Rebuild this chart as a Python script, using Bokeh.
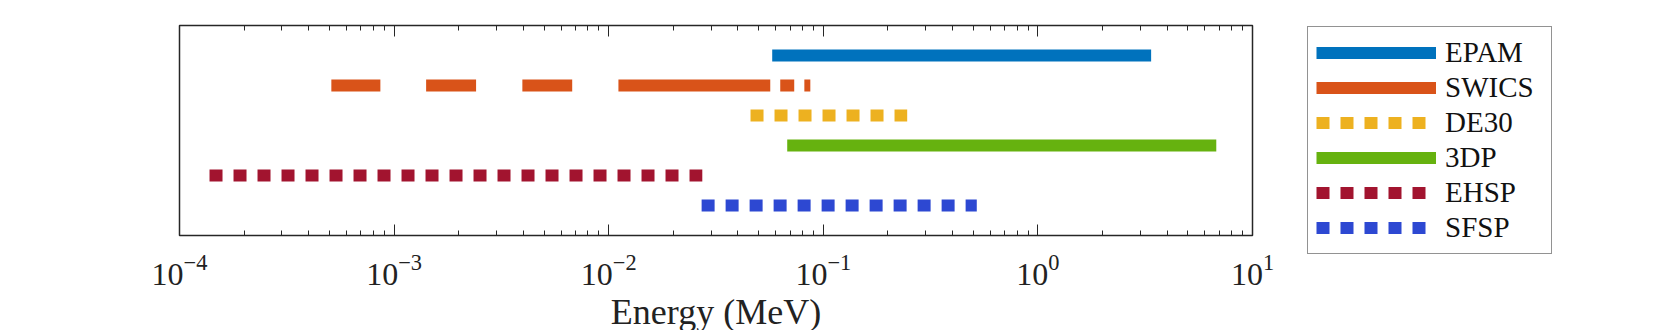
from bokeh.plotting import figure
from bokeh.layouts import row
from bokeh.models import (Range1d, LogAxis, LogTicker, LogTickFormatter,
                          CustomJSTickFormatter, Legend, LegendItem,
                          ColumnDataSource)
from bokeh.embed import file_html
from bokeh.resources import INLINE

# ---- data (energy ranges in MeV, one row per instrument) ----
instruments = ["EPAM", "SWICS", "DE30", "3DP", "EHSP", "SFSP"]
rows = [6, 5, 4, 3, 2, 1]
colors = ["#0072BD", "#D95319", "#EDB120", "#66B20F", "#A2142F", "#2D48D2"]
dashes = ["solid", "solid", "13 11", "solid", "13 11", "13 11"]

epam_range = [0.0578, 3.37]
swics_range = [5.1e-4, 0.087]
de30_range = [0.0458, 0.246]
tdp_range = [0.0679, 6.78]
ehsp_range = [1.38e-4, 0.0273]
sfsp_range = [0.0271, 0.519]

# SWICS is drawn as separate channel segments
swics_start = [5.1e-4, 1.41e-3, 3.96e-3, 0.0111, 0.063, 0.0816]
swics_end = [8.63e-4, 2.41e-3, 6.76e-3, 0.0566, 0.0732, 0.087]

FONT = "Liberation Serif"
AX = "#262626"

p = figure(x_axis_type="log", output_backend="svg", toolbar_location=None,
           frame_width=1073, frame_height=210,
           min_border_left=179, min_border_right=54,
           min_border_top=25, min_border_bottom=86,
           x_range=Range1d(1e-4, 10), y_range=Range1d(0, 7))
p.grid.visible = False
p.yaxis.visible = False
p.outline_line_color = AX
p.outline_line_width = 1.5
p.background_fill_color = "white"
p.border_fill_color = "white"

xa = p.xaxis[0]
xa.ticker = LogTicker(desired_num_ticks=6, num_minor_ticks=10)
xa.formatter = LogTickFormatter()
xa.major_tick_in = 11
xa.major_tick_out = 0
xa.minor_tick_in = 5
xa.minor_tick_out = 0
xa.axis_line_color = AX
xa.major_tick_line_color = AX
xa.minor_tick_line_color = AX
xa.major_label_text_font = FONT
xa.major_label_text_font_size = "32px"
xa.major_label_text_color = "#222222"
xa.major_label_standoff = 19
xa.axis_label = "Energy (MeV)"
xa.axis_label_text_font = FONT
xa.axis_label_text_font_size = "36px"
xa.axis_label_text_font_style = "normal"
xa.axis_label_text_color = "#222222"
xa.axis_label_standoff = 4

top = LogAxis(ticker=LogTicker(desired_num_ticks=6, num_minor_ticks=10),
              formatter=CustomJSTickFormatter(code="return ' '"),
              major_tick_in=11, major_tick_out=0,
              minor_tick_in=5, minor_tick_out=0,
              axis_line_color=AX, major_tick_line_color=AX,
              minor_tick_line_color=AX,
              major_label_text_font_size="1px", major_label_standoff=0)
p.add_layout(top, "above")

def hline(fig, rng, i):
    src = ColumnDataSource(dict(x=rng, y=[rows[i], rows[i]]))
    return fig.line("x", "y", source=src, line_width=12, line_color=colors[i],
                    line_dash=dashes[i], line_cap="butt")

hline(p, epam_range, 0)
sw_src = ColumnDataSource(dict(x0=swics_start, x1=swics_end,
                               y=[rows[1]] * len(swics_start)))
p.segment(x0="x0", y0="y", x1="x1", y1="y", source=sw_src,
          line_width=12, line_color=colors[1], line_cap="butt")
hline(p, de30_range, 2)
hline(p, tdp_range, 3)
hline(p, ehsp_range, 4)
hline(p, sfsp_range, 5)

# ---- legend panel (separate figure so it sits outside the axes box) ----
# its renderers hold the same data but lie outside this panel's ranges
q = figure(output_backend="svg", toolbar_location=None,
           frame_width=248, frame_height=236,
           min_border_left=0, min_border_right=10,
           min_border_top=19, min_border_bottom=10,
           x_range=Range1d(100, 101), y_range=Range1d(100, 101))
q.axis.visible = False
q.grid.visible = False
q.outline_line_color = None
q.border_fill_color = "white"

all_ranges = [epam_range, swics_range, de30_range, tdp_range, ehsp_range,
              sfsp_range]
leg_renderers = [hline(q, rng, i) for i, rng in enumerate(all_ranges)]

legend = Legend(items=[LegendItem(label=n, renderers=[r])
                       for n, r in zip(instruments, leg_renderers)],
                location="top_left",
                label_text_font=FONT, label_text_font_size="29px",
                label_text_color="#111111",
                glyph_width=120, glyph_height=35, label_height=35,
                label_width=98, label_standoff=9, spacing=0, padding=8,
                margin=1,
                border_line_color=AX, border_line_width=1.5,
                background_fill_alpha=1.0)
q.add_layout(legend, "center")

layout = row(p, q, spacing=0)
open("out.html", "w").write(file_html(layout, INLINE))
